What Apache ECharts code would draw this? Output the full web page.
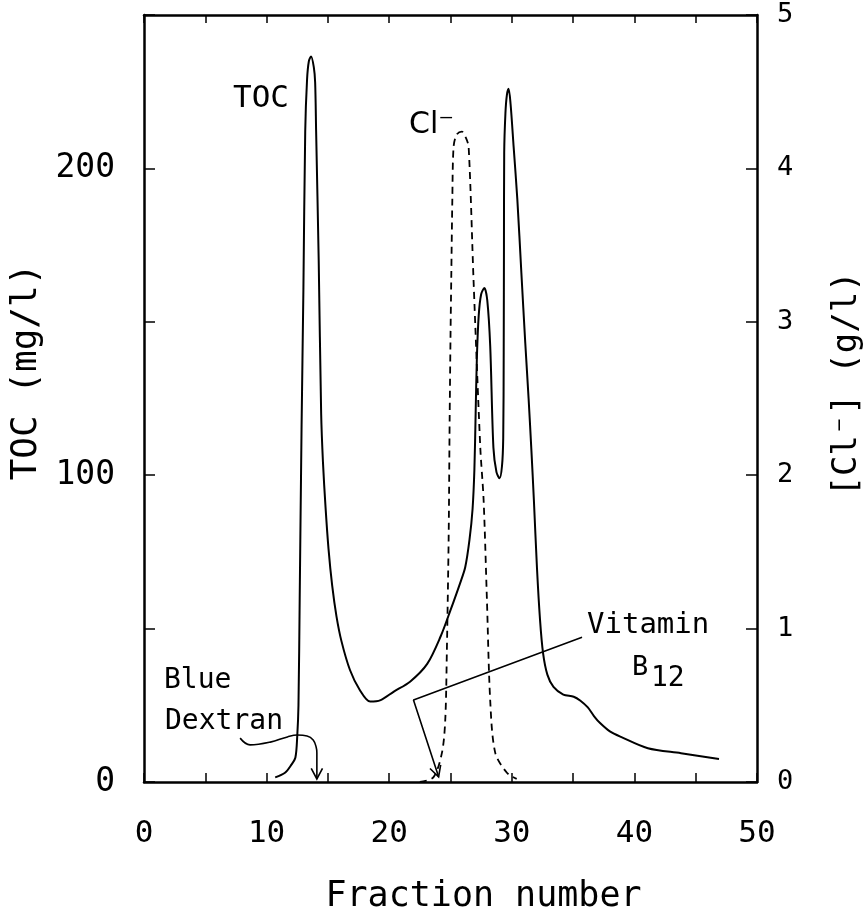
<!DOCTYPE html>
<html>
<head>
<meta charset="utf-8">
<script src="https://cdn.jsdelivr.net/npm/echarts@6/dist/echarts.min.js"></script>
<style>
  html, body { margin: 0; padding: 0; background: #fff; }
  #chart { width: 866px; height: 913px; }
</style>
</head>
<body>
<div id="chart"></div>
<script>
// Elution profile: [fraction number, TOC (mg/l)]
const tocProfile = [
  [10.7, 1.5], [11.5, 3], [12.0, 5.5], [12.35, 8], [12.5, 15], [12.6, 25],
  [12.7, 60], [12.85, 115], [13.0, 160], [13.15, 212], [13.3, 229], [13.45, 235],
  [13.63, 236.5], [13.85, 233], [13.96, 228], [14.04, 212], [14.25, 170], [14.45, 120],
  [14.6, 104], [14.8, 90], [15.05, 76], [15.35, 64], [15.7, 54], [16.1, 46],
  [16.8, 36.5], [17.6, 30], [18.45, 26.2], [19.3, 26.7], [20.35, 29.4], [21.7, 32.7],
  [23.1, 38.5], [24.2, 47.5], [25.0, 56], [25.8, 65], [26.2, 70], [26.55, 79],
  [26.8, 89], [26.95, 102], [27.05, 120], [27.15, 138], [27.3, 152], [27.5, 159],
  [27.76, 161], [28.0, 157], [28.24, 142], [28.5, 109], [28.75, 101], [29.0, 99],
  [29.2, 103], [29.3, 112], [29.34, 140], [29.36, 175], [29.38, 205], [29.48, 218],
  [29.6, 224], [29.74, 226], [29.9, 221], [30.15, 207], [30.45, 190], [30.78, 166],
  [31.1, 143], [31.37, 125], [31.6, 108], [31.8, 92], [32.05, 70], [32.3, 53],
  [32.55, 42], [32.9, 35], [33.4, 31], [34.2, 28.5], [35.05, 27.8], [35.6, 26.5],
  [36.2, 24.3], [36.7, 21.5], [37.2, 19.2], [38.0, 16.5], [38.9, 14.7], [41.1, 11],
  [43.8, 9.4], [46.9, 7.5]
];

// Chloride profile: [fraction number, Cl- (g/l)]
const chlorideProfile = [
  [22.5, 0], [23.6, 0.03], [24.3, 0.19], [24.57, 0.4], [24.7, 0.84], [24.85, 1.6],
  [24.93, 2.36], [25.0, 2.9], [25.06, 3.27], [25.15, 3.8], [25.25, 4.14], [25.5, 4.22],
  [25.93, 4.24], [26.25, 4.2], [26.48, 4.14], [26.88, 3.27], [27.43, 2.18], [27.7, 1.84],
  [27.97, 1.19], [28.24, 0.53], [28.65, 0.19], [29.6, 0.06], [30.4, 0.02]
];

// Marker leaders in axis units: [fraction number, TOC (mg/l)]
const dextranLeader = [
  [7.84, 14.3], [8.65, 12.1], [10.3, 13.0], [11.7, 14.7], [12.5, 15.3], [13.3, 15.0],
  [13.8, 13.7], [14.04, 11.4], [14.1, 9.5], [14.1, 1.0]
];
const vitaminLeader = [[35.73, 47.2], [21.98, 26.7], [24.03, 1.7]];

// Arrow tips: [tip fraction, tip TOC, tail fraction, tail TOC]
const arrowHeads = [
  [14.1, 1.0, 14.1, 9.5],
  [24.03, 1.7, 21.98, 26.7]
];

// Tick labels
const fractionLabels = [0, 10, 20, 30, 40, 50];
const tocLabels = [0, 100, 200];
const chlorideLabels = [0, 1, 2, 3, 4, 5];

const MONO = '"DejaVu Sans Mono", monospace';
const SANS = '"DejaVu Sans", sans-serif';
const INK = '#000';

const chart = echarts.init(document.getElementById('chart'), null, { renderer: 'canvas' });

const frameLine = { show: true, onZero: false, lineStyle: { color: INK, width: 2.5 } };

function note(text, x, y, font) {
  return {
    type: 'text', x, y, silent: true,
    style: { text, font, fill: INK, align: 'left', verticalAlign: 'middle' }
  };
}

chart.setOption({
  animation: false,
  backgroundColor: '#fff',
  grid: { left: 144, right: 109, top: 15, bottom: 131, containLabel: false, outerBoundsMode: 'none' },
  xAxis: [
    {
      type: 'value', min: 0, max: 50, interval: 5, position: 'bottom',
      axisLine: frameLine,
      axisTick: { inside: true, length: 9, lineStyle: { color: INK, width: 1.5 } },
      axisLabel: {
        formatter: v => fractionLabels.includes(v) ? String(v) : '',
        fontFamily: MONO, fontSize: 31, color: INK, margin: 36
      },
      splitLine: { show: false },
      name: 'Fraction number', nameLocation: 'middle', nameGap: 97,
      nameTextStyle: { fontFamily: MONO, fontSize: 35, color: INK, padding: [0, 0, 0, 66] }
    },
    {
      type: 'value', min: 0, max: 50, interval: 5, position: 'top',
      axisLine: frameLine,
      axisTick: { inside: true, length: 8, lineStyle: { color: INK, width: 1.5 } },
      axisLabel: { show: false },
      splitLine: { show: false }
    }
  ],
  yAxis: [
    {
      type: 'value', min: 0, max: 250, interval: 50, position: 'left',
      axisLine: frameLine,
      axisTick: { inside: true, length: 11, lineStyle: { color: INK, width: 1.5 } },
      axisLabel: {
        formatter: v => tocLabels.includes(v) ? String(v) : '',
        fontFamily: MONO, fontSize: 33, color: INK, margin: 29
      },
      splitLine: { show: false },
      name: 'TOC (mg/l)', nameLocation: 'middle', nameGap: 97,
      nameTextStyle: { fontFamily: MONO, fontSize: 36, color: INK, padding: [0, 0, 0, 53] }
    },
    {
      type: 'value', min: 0, max: 5, interval: 1, position: 'right',
      axisLine: frameLine,
      axisTick: { inside: true, length: 11, lineStyle: { color: INK, width: 1.5 } },
      axisLabel: {
        formatter: v => chlorideLabels.includes(v) ? String(v) : '',
        fontFamily: MONO, fontSize: 27, color: INK, margin: 20
      },
      splitLine: { show: false },
      name: '[Cl\u207B] (g/l)', nameLocation: 'middle', nameGap: 73,
      nameTextStyle: { fontFamily: MONO, fontSize: 34, color: INK, padding: [0, 0, 0, 29] }
    }
  ],
  series: [
    {
      name: 'TOC', type: 'line', xAxisIndex: 0, yAxisIndex: 0,
      data: tocProfile, symbol: 'none', smooth: 0.3,
      lineStyle: { color: INK, width: 2 }, z: 3, silent: true
    },
    {
      name: 'Cl-', type: 'line', xAxisIndex: 0, yAxisIndex: 1,
      data: chlorideProfile, symbol: 'none', smooth: 0.3,
      lineStyle: { color: INK, width: 1.8, type: [7, 5] }, z: 3, silent: true
    },
    {
      name: 'Blue Dextran marker', type: 'line', xAxisIndex: 0, yAxisIndex: 0,
      data: dextranLeader, symbol: 'none', smooth: 0.4,
      lineStyle: { color: INK, width: 1.6 }, silent: true
    },
    {
      name: 'Vitamin B12 marker', type: 'line', xAxisIndex: 0, yAxisIndex: 0,
      data: vitaminLeader, symbol: 'none',
      lineStyle: { color: INK, width: 1.6 }, silent: true
    },
    {
      name: 'marker arrows', type: 'custom', xAxisIndex: 0, yAxisIndex: 0,
      data: arrowHeads, silent: true,
      encode: { x: 0, y: 1 },
      renderItem: (params, api) => {
        const tip = api.coord([api.value(0), api.value(1)]);
        const tail = api.coord([api.value(2), api.value(3)]);
        const dx = tip[0] - tail[0], dy = tip[1] - tail[1];
        const len = Math.hypot(dx, dy) || 1;
        const ux = dx / len, uy = dy / len;
        const arm = 12, ang = 28 * Math.PI / 180;
        const rot = (a) => [
          tip[0] - arm * (ux * Math.cos(a) - uy * Math.sin(a)),
          tip[1] - arm * (ux * Math.sin(a) + uy * Math.cos(a))
        ];
        return {
          type: 'polyline',
          shape: { points: [rot(ang), tip, rot(-ang)] },
          style: { stroke: INK, lineWidth: 1.6, fill: null }
        };
      }
    }
  ],
  graphic: [
    note('TOC', 233, 99, '31px ' + MONO),
    note('Cl\u207B', 409, 125, '30px ' + SANS),
    note('Blue', 164, 681, '28px ' + MONO),
    note('Dextran', 165, 722, '28px ' + MONO),
    note('Vitamin', 587, 625, '29px ' + MONO),
    note('B', 632, 668, '27px ' + MONO),
    note('12', 651, 679, '28px ' + MONO)
  ]
});
</script>
</body>
</html>
